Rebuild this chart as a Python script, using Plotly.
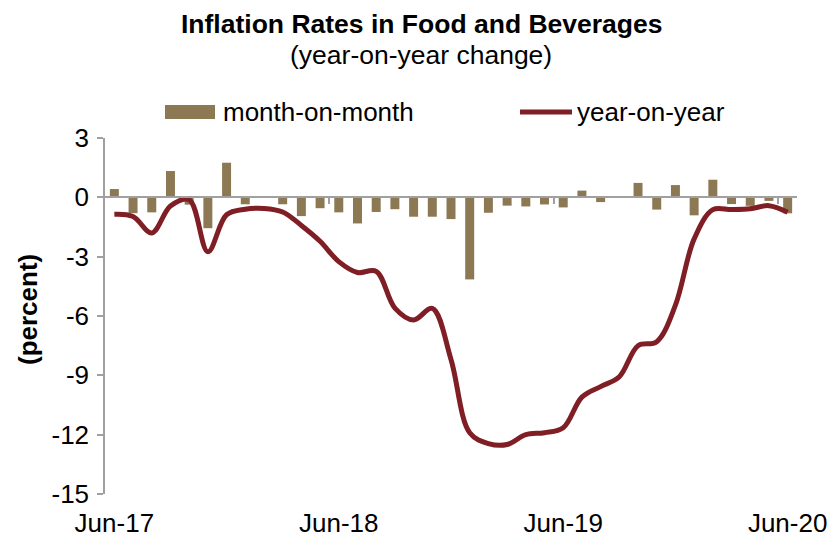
import plotly.graph_objects as go

# Monthly categories, Jun-2017 .. Jun-2020
month_names = ["Jan", "Feb", "Mar", "Apr", "May", "Jun",
               "Jul", "Aug", "Sep", "Oct", "Nov", "Dec"]
months = [f"{month_names[(5 + i) % 12]}-{17 + (5 + i) // 12}" for i in range(37)]

# Month-on-month change (percent)
mom = [0.42, -0.80, -0.76, 1.33, -0.37, -1.56, 1.75, -0.35, -0.03, -0.35,
       -0.95, -0.55, -0.76, -1.32, -0.74, -0.60, -0.98, -0.98, -1.10, -4.15,
       -0.78, -0.42, -0.46, -0.36, -0.51, 0.34, -0.24, 0.02, 0.73, -0.62,
       0.62, -0.91, 0.89, -0.34, -0.43, -0.18, -0.81]

# Year-on-year change (percent)
yoy = [-0.86, -0.97, -1.80, -0.44, -0.12, -2.75, -0.88, -0.60, -0.56, -0.74,
       -1.42, -2.22, -3.25, -3.80, -3.74, -5.60, -6.20, -5.62, -8.20, -11.90,
       -12.45, -12.50, -12.00, -11.90, -11.65, -10.10, -9.57, -9.07, -7.50, -7.30,
       -5.45, -2.10, -0.62, -0.62, -0.58, -0.42, -0.75]

tick_labels = ["Jun-17", "Jun-18", "Jun-19", "Jun-20"]
y_ticks = [3, 0, -3, -6, -9, -12, -15]
y_tick_text = [str(v) for v in y_ticks]  # plain hyphen for negatives

BAR_COLOR = "#8C7853"
LINE_COLOR = "#7F1E25"
AXIS_COLOR = "#A0A0A0"
FONT = "Arial, Liberation Sans, sans-serif"
FS = 26
LINE_W = 5

x_idx = list(range(len(months)))
label_idx = [months.index(t) for t in tick_labels]
boundary_idx = [i - 0.5 for i in label_idx[1:]]

fig = go.Figure()
fig.add_trace(go.Bar(x=x_idx, y=mom, name="month-on-month",
                     marker=dict(color=BAR_COLOR, line=dict(width=0)),
                     showlegend=False))
fig.add_trace(go.Scatter(x=x_idx, y=yoy, name="year-on-year", mode="lines",
                         line=dict(color=LINE_COLOR, width=LINE_W,
                                   shape="spline", smoothing=1.0),
                         showlegend=False))
# helper trace so the zero-line axis is drawn
fig.add_trace(go.Scatter(x=[0], y=[0], xaxis="x2", mode="markers",
                         marker=dict(opacity=0), hoverinfo="skip",
                         showlegend=False))

xr = [-0.5, len(months) - 0.5]
ymin, ymax = -15, 3
zero_pos = (0 - ymin) / (ymax - ymin)

fig.update_layout(
    width=836, height=537,
    margin=dict(l=105, r=39, t=138, b=43, autoexpand=False),
    paper_bgcolor="white", plot_bgcolor="white",
    font=dict(family=FONT, size=FS, color="black"),
    bargap=0.52,
    xaxis=dict(range=xr, tickmode="array", tickvals=label_idx,
               ticktext=tick_labels, showline=False, ticks="",
               showgrid=False, zeroline=False, ticklabelstandoff=11,
               automargin=False, tickfont=dict(size=FS)),
    xaxis2=dict(range=xr, overlaying="x", anchor="free", position=zero_pos,
                side="bottom", showline=True, linecolor=AXIS_COLOR,
                linewidth=1.5, ticks="outside", ticklen=6, tickwidth=1.5,
                tickcolor=AXIS_COLOR, tickmode="array",
                tickvals=boundary_idx, showticklabels=False,
                showgrid=False, zeroline=False, automargin=False),
    yaxis=dict(range=[ymin, ymax], tickmode="array", tickvals=y_ticks,
               ticktext=y_tick_text,
               showline=True, linecolor=AXIS_COLOR, linewidth=1.5,
               ticks="outside", ticklen=6, tickwidth=1.5,
               tickcolor=AXIS_COLOR, showgrid=False, zeroline=False,
               ticklabelstandoff=3, automargin=False,
               tickfont=dict(size=FS)),
)

# paper coordinates of the plot area (px -> paper)
L, W, B, H = 105, 692, 494, 356
def px(x):
    return (x - L) / W
def py(y):
    return (B - y) / H

annotations = [
    dict(text="<b>Inflation Rates in Food and Beverages</b>", x=px(422),
         y=py(24), xanchor="center", yanchor="middle", font=dict(size=26.5)),
    dict(text="(year-on-year change)", x=px(421), y=py(55),
         xanchor="center", yanchor="middle", font=dict(size=26.5)),
    dict(text="<b>(percent)</b>", x=px(28), y=py(310), textangle=-90,
         xanchor="center", yanchor="middle", font=dict(size=FS)),
    dict(text="month-on-month", x=px(221), y=py(112), xanchor="left",
         yanchor="middle", font=dict(size=FS)),
    dict(text="year-on-year", x=px(575), y=py(112), xanchor="left",
         yanchor="middle", font=dict(size=FS)),
]
for a in annotations:
    a.update(xref="paper", yref="paper", showarrow=False)
fig.update_layout(annotations=annotations)

# legend swatches
fig.add_shape(type="rect", xref="paper", yref="paper",
              x0=px(165), x1=px(215), y0=py(119), y1=py(105),
              fillcolor=BAR_COLOR, line=dict(width=0))
fig.add_shape(type="line", xref="paper", yref="paper",
              x0=px(520), x1=px(572), y0=py(112), y1=py(112),
              line=dict(color=LINE_COLOR, width=LINE_W))

fig.write_html("out.html")
